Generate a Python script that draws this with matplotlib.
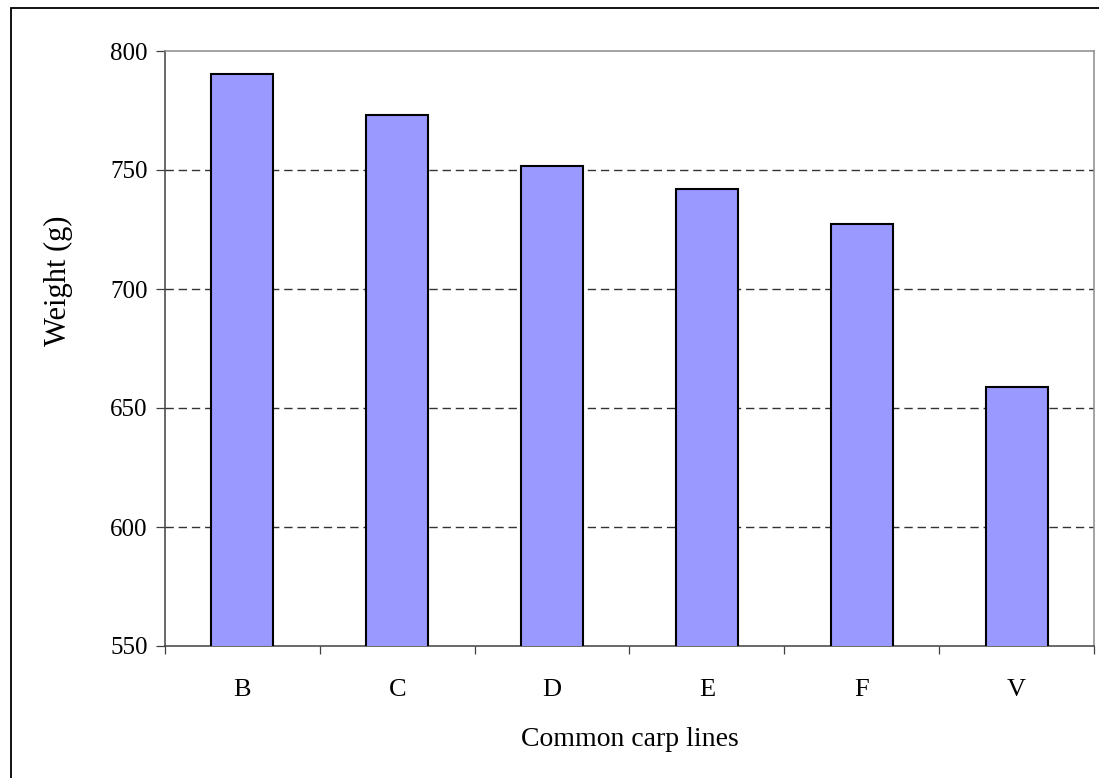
import matplotlib
matplotlib.use("Agg")
from matplotlib import pyplot as plt
from matplotlib.patches import Rectangle

# dados
linhas = ["B", "C", "D", "E", "F", "V"]
peso = [790.5, 773.2, 751.6, 742.0, 727.3, 659.0]
yticks = [550, 600, 650, 700, 750, 800]

W, H = 1099, 778
plt.rcParams["font.family"] = ["Liberation Serif", "DejaVu Serif"]

fig = plt.figure(figsize=(W / 100, H / 100), dpi=100)
ax = fig.add_axes([165 / W, 1 - 646 / H, (1094 - 165) / W, (646 - 51) / H])

x = list(range(len(linhas)))
ax.bar(x, peso, width=0.4, color="#9999FF", edgecolor="black", linewidth=1.5, zorder=3)

ax.set_xlim(-0.5, len(linhas) - 0.5)
ax.set_ylim(550, 800)
ax.set_yticks(yticks)
ax.set_yticklabels([str(v) for v in yticks], fontsize=18)
ax.set_xticks(x)
ax.set_xticklabels(linhas, fontsize=19)
ax.set_xticks([i - 0.5 for i in range(len(linhas) + 1)], minor=True)
ax.tick_params(axis="x", which="major", length=0, pad=24)
ax.tick_params(axis="x", which="minor", length=6, width=0.9, color="#404040", direction="out")
ax.tick_params(axis="y", length=6.5, width=0.9, color="#404040", pad=6)

for v in yticks[1:-1]:
    ax.axhline(v, color="#333333", linewidth=1.0, linestyle=(0, (6, 3.5)), zorder=1)

ax.spines["left"].set_color("#404040")
ax.spines["bottom"].set_color("#404040")
ax.spines["top"].set_color("#8c8c8c")
ax.spines["right"].set_color("#8c8c8c")
for s in ax.spines.values():
    s.set_linewidth(1.1)

fig.text(630 / W, 1 - 740 / H, "Common carp lines", fontsize=20, ha="center", va="center")
fig.text(58 / W, 1 - 281 / H, "Weight (g)", fontsize=22, ha="center", va="center", rotation=90)

# moldura externa
fig.patches.append(Rectangle((10.5 / W, -0.1), 2, 1 - 8 / H + 0.1, transform=fig.transFigure,
                             fill=False, edgecolor="black", linewidth=1.3))

plt.savefig("out.png", dpi=100)
